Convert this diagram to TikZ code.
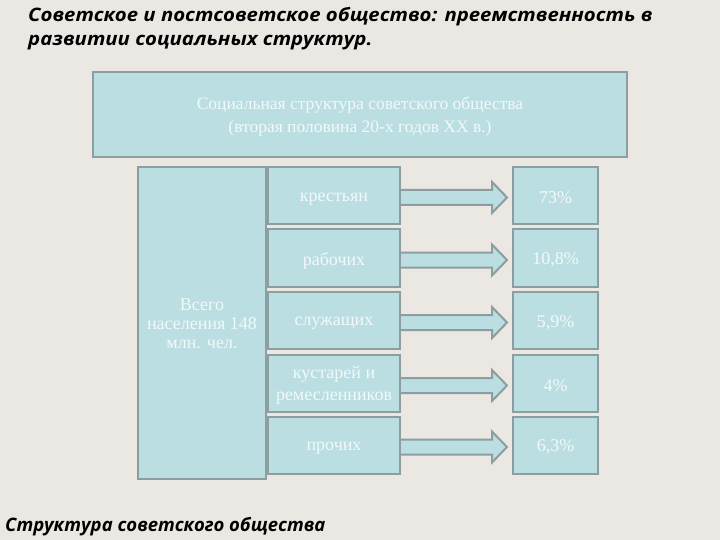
\documentclass[tikz,border=0pt]{standalone}
\usepackage{fontspec}
\setmainfont{Liberation Serif}
\newfontfamily\titlefont{Open Sans}
\usetikzlibrary{calc}
\definecolor{bg}{HTML}{EBE7E2}
\definecolor{boxfill}{HTML}{BBDEE2}
\definecolor{boxline}{HTML}{8C9EA0}
\definecolor{boxtext}{HTML}{F2F9F9}
\tikzset{
  cell/.style={draw=boxline, line width=2pt, fill=boxfill, inner sep=0pt},
  midcell/.style={cell, minimum width=132pt, minimum height=57pt},
  pctcell/.style={cell, minimum width=85pt, minimum height=57pt},
  celltext/.style={text=boxtext, align=center, inner sep=0pt, font=\fontsize{18}{22}\selectfont},
  blockarrow/.style={draw=boxline, line width=2pt, fill=boxfill, line join=miter},
  heading/.style={anchor=base west, inner sep=0pt, text=black,
    font=\titlefont\bfseries\itshape\fontsize{18.5}{22}\selectfont}
}
\newcommand\blockarr[2]{%
  \draw[blockarrow] let \p1=(#1.east), \p2=(#2.west) in
    (\x1,\y1-9.5) -- (\x2-20,\y1-9.5) -- (\x2-20,\y1-17.5) -- (\x2-5,\y1-2)
    -- (\x2-20,\y1+13.5) -- (\x2-20,\y1+5.5) -- (\x1,\y1+5.5);}
\begin{document}
\begin{tikzpicture}[x=1pt,y=-1pt]
\fill[bg] (0,0) rectangle (720,540);
\useasboundingbox (0,0) rectangle (720,540);
\node[heading] (t1) at (28,22) {\scalebox{1.1}[1]{Советское и постсоветское общество: преемственность в}};
\node[heading] (t2) at (28,45.5) {\scalebox{1.1}[1]{развитии социальных структур.}};
\node[heading] (cap) at (5,531.5) {Структура советского общества};
% boxes
\node[cell, minimum width=534pt, minimum height=85pt] (top) at (360,114.5) {};
\node[cell, minimum width=128pt, minimum height=312pt] (all) at (202,323) {};
\node[midcell] (m1) at (334,195.5) {};
\node[midcell] (m2) at (334,258) {};
\node[midcell] (m3) at (334,320.5) {};
\node[midcell] (m4) at (334,383.5) {};
\node[midcell] (m5) at (334,445) {};
\node[pctcell] (p1) at (555.5,195.5) {};
\node[pctcell] (p2) at (555.5,258) {};
\node[pctcell] (p3) at (555.5,320.5) {};
\node[pctcell] (p4) at (555.5,383.5) {};
\node[pctcell] (p5) at (555.5,445) {};
% texts
\node[celltext, font=\fontsize{17.5}{23}\selectfont] (topt) at ($(top)+(0,2.5)$)
  {Социальная структура советского общества\\(вторая половина 20-х годов XX в.)};
\node[celltext, font=\fontsize{18}{19}\selectfont] (allt) at ($(all)+(0,1)$)
  {Всего\\населения 148\\млн. чел.};
\node[celltext] (m1t) at ($(m1)+(0,4)$) {крестьян};
\node[celltext] (m2t) at ($(m2)+(0,3)$) {рабочих};
\node[celltext] (m3t) at ($(m3)+(0,3)$) {служащих};
\node[celltext] (m4t) at ($(m4)+(0,1.5)$) {кустарей и\\ремесленников};
\node[celltext] (m5t) at ($(m5)+(0,3)$) {прочих};
\node[celltext] (p1t) at ($(p1)+(0,2.5)$) {73\%};
\node[celltext] (p2t) at ($(p2)+(0,2)$) {10,8\%};
\node[celltext] (p3t) at ($(p3)+(0,2)$) {5,9\%};
\node[celltext] (p4t) at ($(p4)+(0,2)$) {4\%};
\node[celltext] (p5t) at ($(p5)+(0,2)$) {6,3\%};
% arrows
\blockarr{m1}{p1}
\blockarr{m2}{p2}
\blockarr{m3}{p3}
\blockarr{m4}{p4}
\blockarr{m5}{p5}
\end{tikzpicture}
\end{document}
